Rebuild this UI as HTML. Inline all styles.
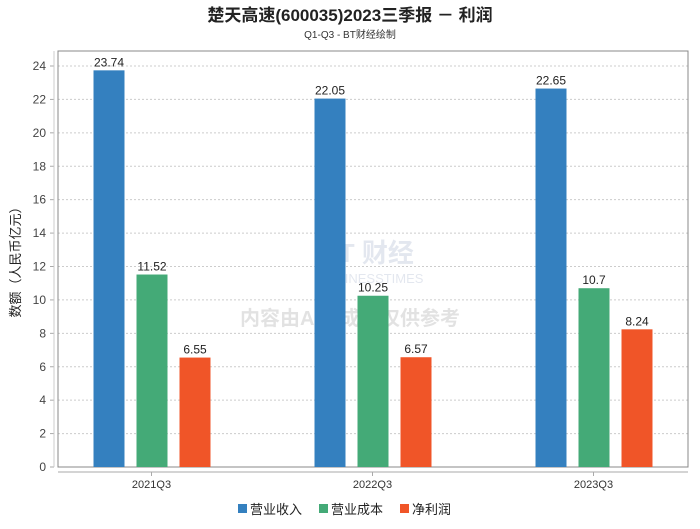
<!DOCTYPE html>
<html><head><meta charset="utf-8">
<style>
body{margin:0;background:#fff;font-family:"Liberation Sans","Noto Sans CJK SC",sans-serif;}
svg text{font-family:"Liberation Sans","Noto Sans CJK SC",sans-serif;}
</style></head>
<body>
<svg id="c" width="700" height="524" xmlns="http://www.w3.org/2000/svg">
<text x="350" y="21" text-anchor="middle" font-size="17" font-weight="bold" fill="#222">楚天高速(600035)2023三季报 － 利润</text>
<text x="350" y="38" text-anchor="middle" font-size="10" fill="#333">Q1-Q3 - BT财经绘制</text>
<g opacity="0.18">
<text x="320" y="262" font-size="26" font-weight="bold" fill="#6a7fa8" font-family="Liberation Serif">BT 财经</text>
<text x="318" y="283" font-size="13" fill="#6a7fa8" font-family="Liberation Serif">BUSINESSTIMES</text>
<text x="350" y="325" text-anchor="middle" font-size="20" font-weight="bold" fill="#666">内容由AI生成，仅供参考</text>
</g>
<g id="grid"></g>
<rect x="58" y="51" width="630" height="416" fill="none" stroke="#888" stroke-width="1"/>
<line x1="54" y1="51" x2="54" y2="467" stroke="#ccc"/>
<line x1="58" y1="472" x2="688" y2="472" stroke="#aaa"/>
<g id="bars"></g>
<text x="20" y="259" font-size="13" fill="#222" text-anchor="middle" transform="rotate(-90 20 259)">数额（人民币亿元）</text>
<g font-size="13" fill="#222">
<g><rect x="238" y="504" width="9" height="9" fill="#3480bf"/><text x="250" y="514">营业收入</text></g>
<g><rect x="319" y="504" width="9" height="9" fill="#44aa77"/><text x="331" y="514">营业成本</text></g>
<g><rect x="400" y="504" width="9" height="9" fill="#f05528"/><text x="412" y="514">净利润</text></g>
</g>
</svg>
<script>
const categories=["2021Q3","2022Q3","2023Q3"];
const revenue=[23.74,22.05,22.65];
const cost=[11.52,10.25,10.7];
const profit=[6.55,6.57,8.24];
const yTicks=[0,2,4,6,8,10,12,14,16,18,20,22,24];
const NS="http://www.w3.org/2000/svg";
const y=v=>467-v*(401/24);
const band=221, x0=41;
const cx=i=>x0+band*i+band/2;
const grid=document.getElementById('grid');
function mk(tag,attrs,parent){const e=document.createElementNS(NS,tag);for(const k in attrs)e.setAttribute(k,attrs[k]);parent.appendChild(e);return e;}
yTicks.forEach(t=>{
  if(t>0){const l=mk('line',{x1:58,x2:688,y1:y(t),y2:y(t),stroke:'#ccc','stroke-dasharray':'2,2'},grid);
  
  }
  const tk=mk('line',{x1:50,x2:54,y1:y(t),y2:y(t),stroke:'#aaa'},grid);
  
  
  const tx=mk('text',{x:46,y:y(t)+4,'text-anchor':'end','font-size':12,fill:'#444'},grid);
  tx.textContent=t;
  
  
});
const bars=document.getElementById('bars');
const series=[[revenue,'#3480bf','revenue'],[cost,'#44aa77','cost'],[profit,'#f05528','profit']];
categories.forEach((c,i)=>{
  series.forEach((s,j)=>{
    const v=s[0][i];const bx=cx(i)-58+43*j;
    const r=mk('rect',{x:bx,y:y(v),width:31,height:467-y(v),fill:s[1]},bars);
    
    
    const t=mk('text',{x:bx+15.5,y:y(v)-4,'text-anchor':'middle','font-size':12,fill:'#222'},bars);
    t.textContent=v;
    
    
  });
  const tk=mk('line',{x1:cx(i),x2:cx(i),y1:472,y2:476,stroke:'#aaa'},bars);
  
  
  const tl=mk('text',{x:cx(i),y:488,'text-anchor':'middle','font-size':11,fill:'#333'},bars);
  tl.textContent=c;
  
  
});
</script>
</body></html>
